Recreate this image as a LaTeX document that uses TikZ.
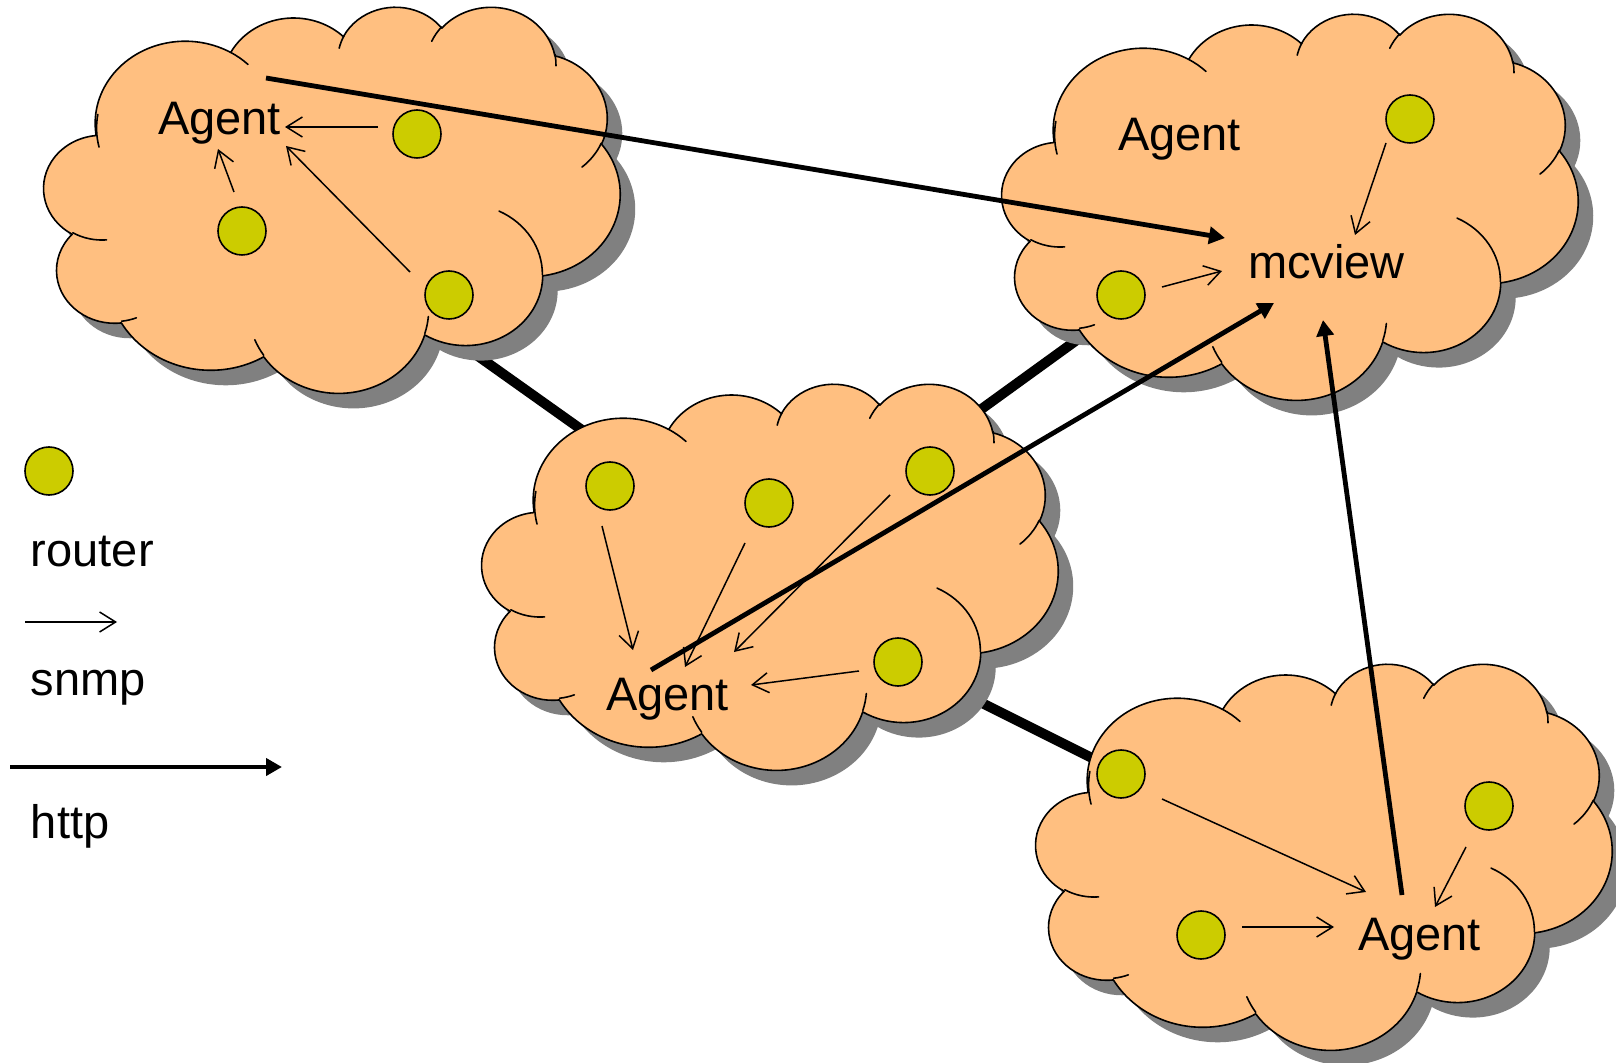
\documentclass[tikz,border=0pt]{standalone}
\usepackage{fontspec}
\setmainfont{Liberation Sans}
\usetikzlibrary{arrows.meta}
\definecolor{cloudfill}{HTML}{FFBF80}
\definecolor{routerfill}{HTML}{CCCC00}
\definecolor{cloudshade}{HTML}{808080}
\newcommand\cldcalc[4]{%
  \pgfmathsetmacro\cldS{atan2((#1)*sin(#3),(#2)*cos(#3))}%
  \pgfmathsetmacro\cldE{atan2((#1)*sin((#3)+(#4)),(#2)*cos((#3)+(#4)))}%
  \pgfmathsetmacro\cldD{mod(\cldE-(\cldS)+720,360)}%
}
\tikzset{
  carc/.style n args={4}{/utils/exec={\cldcalc{#1}{#2}{#3}{#4}},
    insert path={arc[start angle=\cldS,delta angle=\cldD,x radius=#1,y radius=#2]}},
  cloudouter/.style={insert path={(3.900,14.370)
    [carc={6.753}{9.190}{-190.487}{123.781}]
    [carc={5.333}{7.267}{-144.102}{89.945}]
    [carc={4.365}{5.945}{-145.808}{99.723}]
    [carc={4.857}{6.595}{-130.986}{117.242}]
    [carc={5.333}{7.273}{-78.709}{109.027}]
    [carc={6.775}{9.220}{-46.267}{130.269}]
    [carc={5.785}{7.867}{0.625}{114.033}]
    [carc={6.752}{9.215}{22.452}{115.173}]
    [carc={7.720}{10.543}{66.243}{75.711}]
    [carc={4.360}{5.918}{-274.942}{146.736}]
    [carc={4.345}{5.945}{-246.829}{152.519}]
    -- cycle}},
  cloudinner/.style={insert path={
    (4.693,26.177) [carc={4.345}{5.945}{86.742}{26.430}]
    (6.928,34.899) [carc={4.360}{5.918}{73.610}{11.447}]
    (16.478,39.090) [carc={6.752}{9.215}{137.624}{14.081}]
    (28.827,34.751) [carc={6.752}{9.215}{6.453}{15.998}]
    (34.129,22.954) [carc={5.785}{7.867}{-70.292}{70.917}]
    (41.798,15.354) [carc={5.333}{7.273}{30.318}{27.752}]
    (38.324,5.426) [carc={4.857}{6.595}{-13.744}{14.859}]
    (29.078,3.952) [carc={4.857}{6.595}{-149.181}{18.195}]
    (22.141,4.720) [carc={4.365}{5.945}{-163.494}{17.686}]
    (14.000,5.192) [carc={6.753}{9.190}{-66.707}{12.319}]
    (4.127,15.789) [carc={6.753}{9.190}{162.037}{30.874}]}},
  cloudbody/.style={fill=cloudfill,draw=black,line width=0.8pt,line join=round},
  cloudarcs/.style={draw=black,line width=0.8pt,line cap=round},
  router/.style={circle,draw=black,fill=routerfill,line width=0.8pt,minimum size=24pt,inner sep=0pt,outer sep=0pt},
  lbl/.style={anchor=base west,inner sep=0pt,outer sep=0pt,font=\fontsize{23.5}{28}\selectfont},
  snmp/.style={line width=0.75pt,-{Straight Barb[length=8pt,width=10pt]}},
  http/.style={line width=2.4pt,-{Triangle[length=8pt,width=8.5pt]}},
  link/.style={line width=5pt},
}
\newcommand\drawcloud[2]{%
  \begin{scope}[shift={(#1+15,#2+15)},xscale=13.333,yscale=8.935]
    \fill[cloudshade,cloudouter];
  \end{scope}
  \begin{scope}[shift={(#1,#2)},xscale=13.333,yscale=8.935]
    \path[cloudbody,cloudouter];
    \path[cloudarcs,cloudinner];
  \end{scope}}
\begin{document}
\begin{tikzpicture}[x=0.5pt,y=-0.5pt]
\useasboundingbox (0,0) rectangle (1616,1063);
\fill[white] (0,0) rectangle (1616,1063);
% link end points (hidden under the clouds)
\coordinate (acA) at (430,322);
\coordinate (acC) at (620,457);
\coordinate (bcC) at (900,468);
\coordinate (bcB) at (1110,316);
\coordinate (cdC) at (950,687);
\coordinate (cdD) at (1120,772);
\draw[link] (acA) -- (acC);
\draw[link] (bcC) -- (bcB);
\draw[link] (cdC) -- (cdD);
% clouds
\drawcloud{44}{6}
\drawcloud{1002}{13}
\drawcloud{482}{383}
\drawcloud{1036}{663}
% routers
\node[router] (r1) at (417,134) {};
\node[router] (r2) at (242,231) {};
\node[router] (r3) at (449,295) {};
\node[router] (r4) at (1410,119) {};
\node[router] (r5) at (1121,295) {};
\node[router] (r6) at (610,486) {};
\node[router] (r7) at (769,503) {};
\node[router] (r8) at (930,471) {};
\node[router] (r9) at (898,662) {};
\node[router] (r10) at (1121,774) {};
\node[router] (r11) at (1489,806) {};
\node[router] (r12) at (1201,935) {};
\node[router] (rleg) at (49,471) {};
% labels
\node[lbl] (agA) at (158,135) {Agent};
\node[lbl] (agB) at (1118,151) {Agent};
\node[lbl] (mcv) at (1248,279) {mcview};
\node[lbl] (agC) at (606,710) {Agent};
\node[lbl] (agD) at (1358,950) {Agent};
\node[lbl] (lrouter) at (31,567) {router};
\node[lbl] (lsnmp) at (31,695) {snmp};
\node[lbl] (lhttp) at (31,838) {http};
% snmp arrow ends
\coordinate (s1a) at (378,127);  \coordinate (s1b) at (285,127);
\coordinate (s2a) at (234,192);  \coordinate (s2b) at (218,149);
\coordinate (s3a) at (410,272);  \coordinate (s3b) at (286,146);
\coordinate (s4a) at (1386,143); \coordinate (s4b) at (1355,235);
\coordinate (s5a) at (1162,287); \coordinate (s5b) at (1222,271);
\coordinate (s6a) at (602,526);  \coordinate (s6b) at (633,650);
\coordinate (s7a) at (745,543);  \coordinate (s7b) at (685,667);
\coordinate (s8a) at (890,495);  \coordinate (s8b) at (734,652);
\coordinate (s9a) at (859,671);  \coordinate (s9b) at (751,685);
\coordinate (s10a) at (1162,799); \coordinate (s10b) at (1366,892);
\coordinate (s11a) at (1466,847); \coordinate (s11b) at (1435,907);
\coordinate (s12a) at (1242,927); \coordinate (s12b) at (1334,927);
\coordinate (legsa) at (25,622);  \coordinate (legsb) at (117,622);
\foreach \i in {1,...,12} {\draw[snmp] (s\i a) -- (s\i b);}
\draw[snmp] (legsa) -- (legsb);
% http arrows
\coordinate (h1a) at (266,78);   \coordinate (h1b) at (1225,238);
\coordinate (h2a) at (651,670);  \coordinate (h2b) at (1274,303);
\coordinate (h3a) at (1402,895); \coordinate (h3b) at (1323,320);
\coordinate (legha) at (10,767); \coordinate (leghb) at (282,767);
\draw[http] (h1a) -- (h1b);
\draw[http] (h2a) -- (h2b);
\draw[http] (h3a) -- (h3b);
\draw[http] (legha) -- (leghb);
\end{tikzpicture}
\end{document}
